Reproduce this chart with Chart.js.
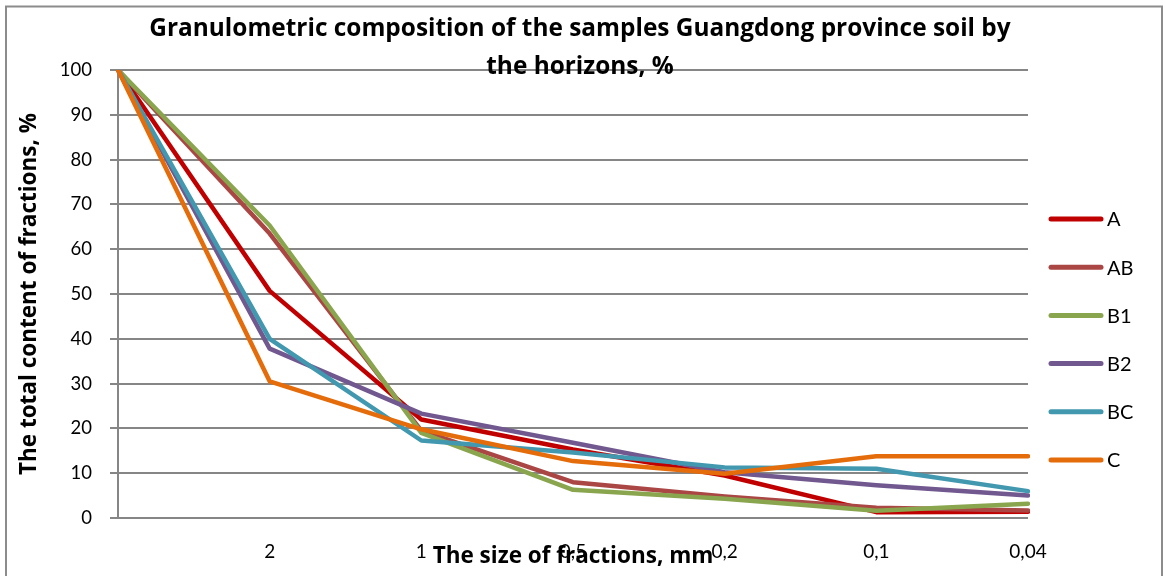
<!DOCTYPE html>
<html>
<head>
<meta charset="utf-8">
<script src="https://cdn.jsdelivr.net/npm/chart.js@4.4.1/dist/chart.umd.min.js"></script>
<style>
  html, body { margin: 0; padding: 0; background: #fff; }
  canvas { display: block; }
</style>
</head>
<body>
<canvas id="chart" width="1165" height="576"></canvas>
<script>
// Fraction size categories (mm); the first point is the whole sample (100 %)
const sizeLabels = ['', '2', '1', '0,5', '0,2', '0,1', '0,04'];

// Cumulative content of fractions by horizon, %
const horizonA  = [100, 50.7, 22.0, 15.3, 9.5, 1.3, 1.4];
const horizonAB = [100, 63.5, 19.5, 8.0, 4.8, 2.3, 1.7];
const horizonB1 = [100, 65.3, 19.0, 6.3, 4.3, 1.6, 3.2];
const horizonB2 = [100, 37.8, 23.3, 16.8, 10.2, 7.3, 5.0];
const horizonBC = [100, 40.0, 17.3, 14.6, 11.3, 11.0, 6.0];
const horizonC  = [100, 30.5, 19.8, 12.7, 9.9, 13.8, 13.8];

const seriesNames  = ['A', 'AB', 'B1', 'B2', 'BC', 'C'];
const seriesValues = [horizonA, horizonAB, horizonB1, horizonB2, horizonBC, horizonC];
const seriesColors = ['#C00000', '#AA4643', '#89A54E', '#71588F', '#4198AF', '#E46C0A'];

const TEXT_FONT = 'Lato';
const BOLD_FONT = 'Open Sans';
const GRID = '#868686';

const datasets = seriesNames.map((name, i) => ({
  label: name,
  data: seriesValues[i],
  borderColor: seriesColors[i],
  backgroundColor: seriesColors[i],
  borderWidth: 4.5,
  borderJoinStyle: 'round',
  borderCapStyle: 'round',
  pointRadius: 0,
  pointHoverRadius: 0,
  tension: 0,
  fill: false,
  // later horizons are painted over earlier ones
  order: seriesNames.length - i,
  yAxisID: 'y'
}));

// White page, outer frame and the legend on the right
const decorations = {
  id: 'decorations',
  beforeDraw(chart) {
    const ctx = chart.ctx;
    ctx.save();
    ctx.fillStyle = '#ffffff';
    ctx.fillRect(0, 0, chart.width, chart.height);
    ctx.restore();
  },
  afterDraw(chart) {
    const ctx = chart.ctx;
    ctx.save();
    ctx.strokeStyle = '#8c8c8c';
    ctx.lineWidth = 2;
    ctx.strokeRect(6, 6.5, 1156, 620);

    ctx.font = '20px ' + TEXT_FONT;
    ctx.textBaseline = 'middle';
    ctx.textAlign = 'left';
    seriesNames.forEach((name, i) => {
      const y = 219 + i * 48.2;
      ctx.strokeStyle = seriesColors[i];
      ctx.lineWidth = 5;
      ctx.lineCap = 'round';
      ctx.beginPath();
      ctx.moveTo(1051, y);
      ctx.lineTo(1101, y);
      ctx.stroke();
      ctx.fillStyle = '#000';
      ctx.fillText(name, 1107, y + 1);
    });
    ctx.restore();
  }
};

new Chart(document.getElementById('chart'), {
  type: 'line',
  data: { labels: sizeLabels, datasets },
  plugins: [decorations],
  options: {
    responsive: false,
    devicePixelRatio: 1,
    animation: false,
    layout: { padding: { left: 0, right: 5, top: 0, bottom: 0 } },
    plugins: {
      legend: { display: false },
      tooltip: { enabled: false },
      title: {
        display: true,
        text: ['Granulometric composition of the samples Guangdong province soil by', 'the horizons, %'],
        color: '#000',
        font: { family: BOLD_FONT, size: 24.4, weight: 'bold', lineHeight: '38px' },
        padding: { top: 10, bottom: -16 }
      }
    },
    scales: {
      x: {
        type: 'category',
        offset: false,
        grid: { display: false, drawTicks: false },
        border: { display: false },
        ticks: {
          color: '#000',
          font: { family: TEXT_FONT, size: 19 },
          padding: 22.5,
          autoSkip: false,
          maxRotation: 0
        },
        title: {
          display: true,
          text: 'The size of fractions, mm',
          color: '#000',
          font: { family: BOLD_FONT, size: 22.5, weight: 'bold' },
          padding: { top: 0, bottom: 5.5 }
        },
        afterFit(scale) { scale.height = 58; }
      },
      y: {
        min: 0,
        max: 100,
        ticks: {
          stepSize: 10,
          color: '#000',
          font: { family: TEXT_FONT, size: 18.5 },
          padding: 18
        },
        grid: { color: GRID, lineWidth: 2, tickLength: 8, drawTicks: true },
        border: { display: true, color: GRID, width: 2 },
        title: {
          display: true,
          text: 'The total content of fractions, %',
          color: '#000',
          font: { family: BOLD_FONT, size: 22.5, weight: 'bold' },
          padding: { top: 16.5, bottom: 0 }
        },
        afterFit(scale) { scale.width = 118; }
      },
      // empty right-hand strip that holds the legend
      legendSpace: {
        type: 'linear',
        position: 'right',
        display: true,
        grid: { display: false, drawTicks: false },
        border: { display: false },
        ticks: { display: false },
        afterFit(scale) { scale.width = 132; }
      }
    }
  }
});
</script>
</body>
</html>
